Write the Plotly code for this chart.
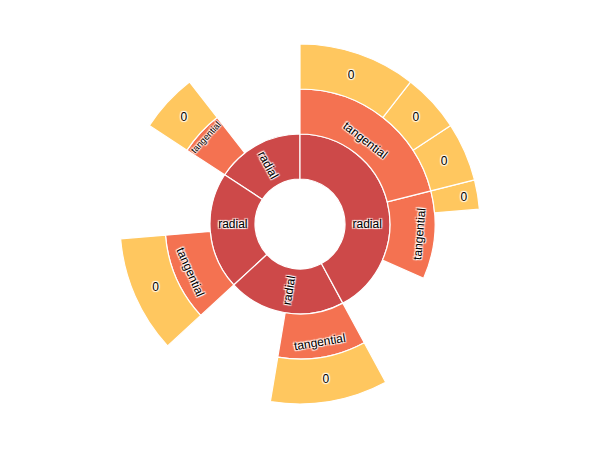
import plotly.graph_objects as go

# Nodes listed in counter-clockwise drawing order; "gap" entries are empty space
ids = ["root",
       "D", "Dg", "D1", "D1a",
       "C", "Cg", "C1", "C1a",
       "B", "Bg", "B1", "B1a",
       "A", "Ag", "A2", "A2g", "A2a", "A1", "A1c", "A1b", "A1a"]
parents = ["",
           "root", "D", "D", "D1",
           "root", "C", "C", "C1",
           "root", "B", "B", "B1",
           "root", "A", "A", "A2", "A2", "A", "A1", "A1", "A1"]
labels = ["",
          "radial", "gap", "tangential", "0",
          "radial", "gap", "tangential", "0",
          "radial", "gap", "tangential", "0",
          "radial", "gap", "tangential", "gap", "0", "tangential", "0", "0", "0"]
values = [19,
          3, 2, 1, 1,
          4, 2, 2, 2,
          4, 2, 2, 2,
          8, 2, 2, 1.5, 0.5, 4, 1, 1, 2]
depths = [0,
          1, 2, 2, 3,
          1, 2, 2, 3,
          1, 2, 2, 3,
          1, 2, 2, 3, 3, 2, 3, 3, 3]
level_colors = ["#ffffff", "#CD4949", "#F47251", "#FFC75F"]
orientations = {1: "radial", 2: "tangential", 3: "horizontal"}
CLEAR = "rgba(0,0,0,0)"

shadow = "1px 1px 1px #fff, -1px -1px 1px #fff, 1px -1px 1px #fff, -1px 1px 1px #fff"

fig = go.Figure()
for lvl, orient in orientations.items():
    texts = [lab if (d == lvl and lab != "gap") else "" for lab, d in zip(labels, depths)]
    if lvl == 1:
        colors = [CLEAR if lab == "gap" else level_colors[d] for lab, d in zip(labels, depths)]
        line_colors = [CLEAR if lab == "gap" else "#ffffff" for lab in labels]
        line_w = 1.2
    else:
        colors = [CLEAR] * len(ids)
        line_colors = [CLEAR] * len(ids)
        line_w = 0
    fig.add_trace(go.Sunburst(
        ids=ids, parents=parents, labels=labels, values=values,
        text=texts, textinfo="text",
        branchvalues="total", sort=False, rotation=90,
        insidetextorientation=orient,
        marker=dict(colors=colors, line=dict(color=line_colors, width=line_w)),
        leaf=dict(opacity=1),
        textfont=dict(family="Liberation Sans, Arial, sans-serif", size=12,
                      color="#000000", shadow=shadow),
        hoverinfo="skip",
    ))

fig.update_layout(
    width=600, height=450,
    margin=dict(l=0, r=16, t=36, b=54),
    paper_bgcolor="#ffffff",
    showlegend=False,
)
fig.write_html("out.html")
